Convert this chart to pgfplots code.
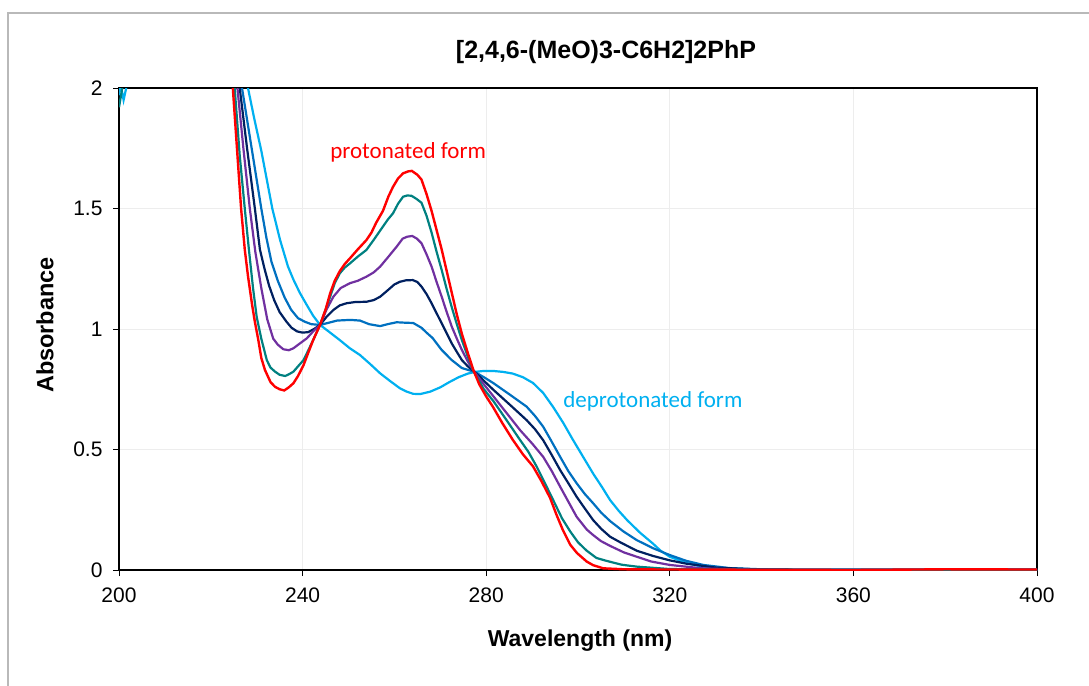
\documentclass[border=0pt]{standalone}
\usepackage{pgfplots}
\pgfplotsset{compat=1.18}
\usepackage{fontspec}
\setmainfont{Liberation Sans}
\newfontfamily\calibri{Carlito}
\definecolor{cred}{RGB}{255,0,0}
\definecolor{cteal}{RGB}{0,128,128}
\definecolor{cpurple}{RGB}{112,48,160}
\definecolor{cnavy}{RGB}{0,32,96}
\definecolor{cblue}{RGB}{0,112,192}
\definecolor{clight}{RGB}{0,176,240}
\begin{document}
\begin{tikzpicture}[x=1pt,y=1pt]
\draw[color=gray!55, line width=1.3pt] (8,-720) -- (8,-13) -- (1120,-13);
\begin{axis}[
  at={(119pt,-570pt)}, anchor=south west,
  scale only axis, width=918pt, height=482pt,
  xmin=200, xmax=400, ymin=0, ymax=2,
  xtick={200,240,...,400}, ytick={0,0.5,1,1.5,2},
  tick pos=left,
  axis line style={line width=1.6pt},
  tick style={black, line width=1pt},
  tick align=outside, major tick length=6pt,
  grid=major, grid style={line width=0.8pt, color=gray!14},
  ticklabel style={font=\fontsize{21}{25}\selectfont},
  xticklabel style={yshift=-8pt},
  yticklabel style={xshift=-7pt},
  /pgf/number format/assume math mode=true,
  every axis plot/.append style={line width=2.2pt, mark=none},
]
% light blue (deprotonated)
\addplot[clight] coordinates {
(200,1.97)(200.3,2.02)(201.0,1.95)(201.8,2.02)(202.5,2.4)(226.5,2.4)(228.1,2.0)(229.5,1.87)(231.0,1.74)(232.2,1.62)(233.4,1.5)(235.1,1.369)(236.8,1.26)(238.0,1.205)(239.4,1.15)(240.9,1.10)(242.3,1.055)(243.8,1.017)(246.0,0.985)(248.1,0.954)(250.3,0.92)(252.5,0.892)(254.7,0.855)(256.9,0.816)(259.0,0.785)(261.2,0.754)(262.7,0.74)(264.1,0.731)(265.6,0.73)(267.8,0.74)(270.0,0.758)(272.0,0.78)(274.0,0.80)(276.0,0.815)(277.5,0.822)(279.5,0.826)(281.5,0.826)(283.7,0.822)(285.8,0.815)(288.0,0.80)(290.2,0.776)(292.4,0.735)(294.6,0.676)(296.8,0.61)(298.9,0.54)(301.1,0.47)(303.3,0.40)(305.2,0.345)(307,0.29)(308.9,0.245)(310.7,0.207)(313.5,0.155)(316.3,0.11)(318,0.08)(320,0.055)(323.5,0.03)(327,0.014)(332,0.006)(340,0.002)(360,0.001)(400,0.001)
};
% mid blue
\addplot[cblue] coordinates {
(225.3,2.35)(226.8,2.0)(228.9,1.75)(231.0,1.5)(232.1,1.38)(233.2,1.28)(234.6,1.2)(236.1,1.13)(237.5,1.08)(239.0,1.045)(240.5,1.03)(241.9,1.02)(243.8,1.017)(245.5,1.025)(247.5,1.035)(249.6,1.037)(251.0,1.037)(252.5,1.035)(254.5,1.02)(256.9,1.012)(258.5,1.02)(260.5,1.028)(262.5,1.026)(264.1,1.025)(265.9,1.005)(267,0.985)(268.3,0.963)(270.3,0.913)(272.5,0.871)(274.7,0.838)(277.5,0.822)(279.5,0.80)(281.6,0.775)(285.2,0.727)(288.8,0.678)(290.6,0.64)(292.4,0.595)(294.2,0.535)(296.1,0.47)(297.9,0.41)(299.7,0.36)(301.5,0.315)(303.3,0.277)(305.1,0.237)(307,0.203)(309.9,0.16)(312.8,0.124)(316.4,0.09)(320,0.062)(323.6,0.038)(327.3,0.021)(333,0.008)(340,0.003)(350,0.001)(400,0.001)
};
% navy
\addplot[cnavy] coordinates {
(224.8,2.35)(226.3,2.0)(227.9,1.75)(229.6,1.5)(230.7,1.33)(231.7,1.25)(232.7,1.18)(233.8,1.12)(235.0,1.07)(236.5,1.03)(237.6,1.005)(238.8,0.990)(240.0,0.985)(241.2,0.987)(242.5,1.0)(243.8,1.017)(245.2,1.05)(246.7,1.079)(248.1,1.098)(249.6,1.107)(251.5,1.112)(253.9,1.113)(255.5,1.12)(256.9,1.134)(258.5,1.16)(260.0,1.185)(261.2,1.196)(262.5,1.202)(264.0,1.203)(265.0,1.195)(265.9,1.176)(267.0,1.145)(268.1,1.107)(269.2,1.065)(270.3,1.024)(271.4,0.982)(272.5,0.94)(273.6,0.905)(274.7,0.871)(276.0,0.845)(277.5,0.822)(279.5,0.785)(281.6,0.747)(285.2,0.685)(288.8,0.622)(290.6,0.585)(292.4,0.539)(294.2,0.48)(296.1,0.415)(297.9,0.36)(299.7,0.304)(301.5,0.255)(303.3,0.207)(305.1,0.17)(307,0.138)(309.2,0.115)(312.8,0.08)(316.4,0.058)(320,0.04)(323.7,0.026)(330,0.01)(338,0.003)(350,0.001)(400,0.001)
};
% purple
\addplot[cpurple] coordinates {
(224.3,2.35)(225.8,2.0)(227.1,1.75)(228.5,1.5)(229.7,1.32)(231.0,1.17)(232.3,1.04)(233.6,0.96)(234.6,0.935)(235.8,0.916)(237.0,0.912)(238.0,0.920)(239.4,0.94)(240.9,0.961)(242.3,0.99)(243.8,1.017)(245.2,1.08)(246.7,1.134)(248.3,1.17)(250.3,1.19)(252.0,1.20)(253.9,1.217)(255.5,1.235)(256.9,1.259)(258.7,1.30)(260.5,1.342)(261.8,1.375)(262.8,1.383)(263.9,1.386)(264.9,1.375)(265.9,1.356)(267.0,1.31)(268.1,1.259)(269.2,1.195)(270.3,1.134)(271.4,1.07)(272.5,1.01)(273.6,0.96)(274.7,0.913)(276.0,0.865)(277.4,0.822)(279.5,0.77)(281.6,0.72)(284.5,0.65)(287.4,0.58)(290.0,0.525)(292.4,0.47)(294.3,0.41)(296.1,0.346)(298.0,0.28)(299.7,0.221)(301.9,0.168)(303.3,0.145)(305,0.12)(307,0.1)(310,0.073)(312.8,0.055)(316,0.035)(320,0.021)(327,0.007)(335,0.002)(350,0.0)(400,0.001)
};
% teal
\addplot[cteal] coordinates {
(200,1.92)(200.9,2.02)(202,2.4)(224,2.35)(225.2,2.0)(226.3,1.72)(227.4,1.5)(228.3,1.33)(229.2,1.17)(230.0,1.05)(231.0,0.96)(232.2,0.871)(233.0,0.84)(234.0,0.823)(235.0,0.810)(236.2,0.805)(237.0,0.812)(238.0,0.823)(239.0,0.845)(240.2,0.871)(241.2,0.91)(242.3,0.954)(243.8,1.017)(245.0,1.08)(246.0,1.134)(247.0,1.19)(248.1,1.231)(249.2,1.255)(250.3,1.272)(252.0,1.30)(253.9,1.328)(255.5,1.37)(257.5,1.425)(258.6,1.455)(259.7,1.48)(260.8,1.52)(261.9,1.549)(262.8,1.554)(263.7,1.553)(264.8,1.54)(265.9,1.524)(267.0,1.47)(268.1,1.40)(269.2,1.32)(270.3,1.245)(271.4,1.165)(272.5,1.09)(273.6,1.02)(274.7,0.954)(276.0,0.885)(277.3,0.822)(279.5,0.75)(281.6,0.70)(284.5,0.62)(287.4,0.539)(289.2,0.49)(291.0,0.429)(292.8,0.36)(294.6,0.29)(296.5,0.215)(298.3,0.16)(300.0,0.115)(301.9,0.08)(304.0,0.05)(306.2,0.038)(309.5,0.022)(312.8,0.014)(320,0.004)(340,0.001)(360,0)(400,0.001)
};
% red (protonated)
\addplot[cred, line width=2.4pt] coordinates {
(223.5,2.35)(224.8,2.0)(225.7,1.75)(226.6,1.5)(227.4,1.33)(228.1,1.22)(229.0,1.10)(229.6,1.03)(230.3,0.96)(231.0,0.88)(231.8,0.83)(233.0,0.78)(234.0,0.760)(235.0,0.750)(236.0,0.745)(237.0,0.758)(238.0,0.775)(239.0,0.805)(240.2,0.850)(241.2,0.90)(242.3,0.954)(243.8,1.017)(245.0,1.08)(246.0,1.148)(247.0,1.20)(248.1,1.24)(249.2,1.27)(250.3,1.293)(252.0,1.33)(253.9,1.369)(255.0,1.40)(256.0,1.44)(257.5,1.49)(258.7,1.55)(259.7,1.59)(260.8,1.625)(261.9,1.646)(263.0,1.654)(263.8,1.656)(265.0,1.64)(265.9,1.62)(267.0,1.56)(268.1,1.49)(269.2,1.41)(270.3,1.33)(271.4,1.24)(272.5,1.15)(273.6,1.06)(274.7,0.98)(276.0,0.90)(277.2,0.83)(278.5,0.77)(280.0,0.72)(281.5,0.676)(283.5,0.61)(285.8,0.54)(288.0,0.48)(290.2,0.43)(292.0,0.37)(293.9,0.30)(295.3,0.23)(296.7,0.166)(298.3,0.105)(299.8,0.07)(301.9,0.035)(303.3,0.02)(305.5,0.007)(310,0.003)(320,0.002)(340,0.001)(360,0.0)(380,0.003)(400,0.002)
};
\node[text=cred, font=\calibri\fontsize{23}{27}\selectfont] at (axis cs:263.0,1.734) {protonated form};
\node[text=clight, font=\calibri\fontsize{23}{27}\selectfont] at (axis cs:316.3,0.701) {deprotonated form};
\end{axis}
\node[font=\bfseries\fontsize{25}{29}\selectfont] at (606,-52) {[2,4,6-(MeO)3-C6H2]2PhP};
\node[font=\bfseries\fontsize{23}{27}\selectfont] at (580,-641) {Wavelength (nm)};
\node[font=\bfseries\fontsize{23.5}{27}\selectfont, rotate=90] at (45,-325) {Absorbance};
\pgfresetboundingbox
\useasboundingbox (0,0) rectangle (1089,-685);
\end{tikzpicture}
\end{document}
